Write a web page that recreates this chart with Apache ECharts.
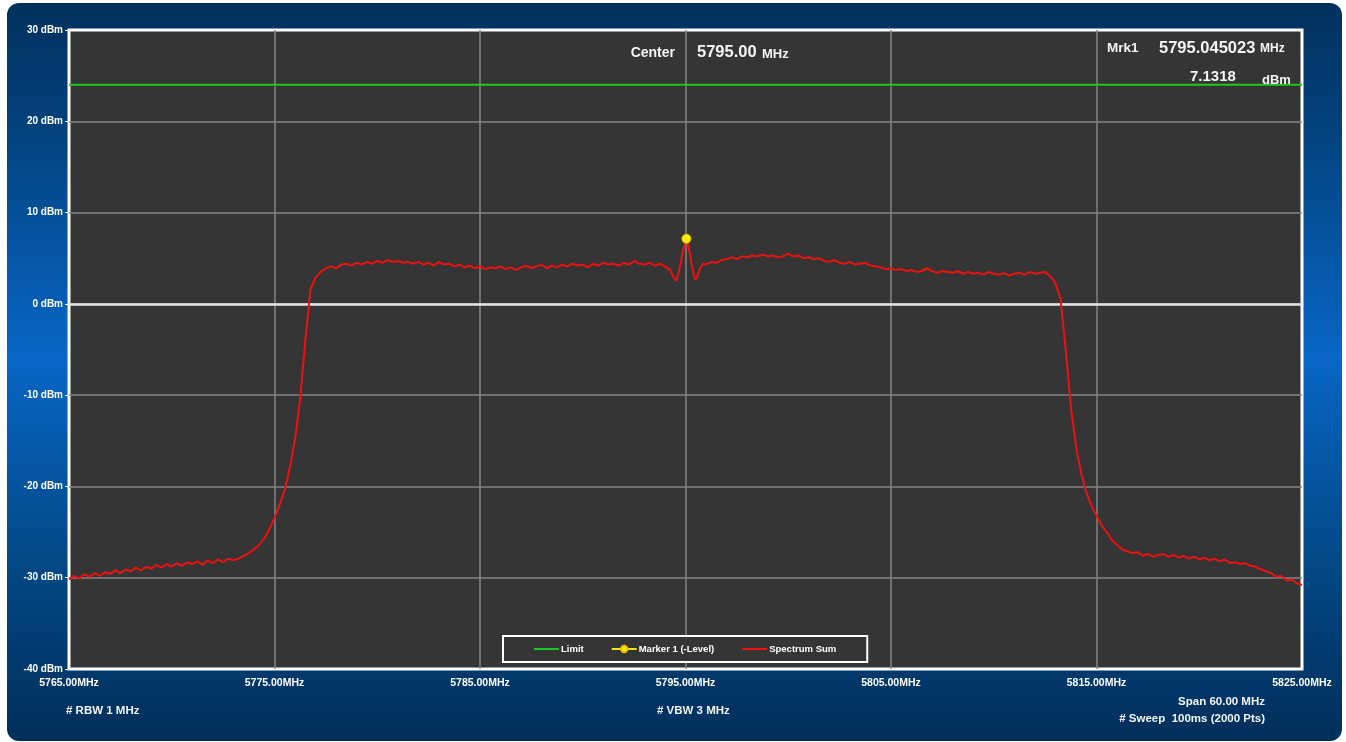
<!DOCTYPE html>
<html>
<head>
<meta charset="utf-8">
<script src="https://cdn.jsdelivr.net/npm/echarts@6/dist/echarts.min.js"></script>
<style>
html,body{margin:0;padding:0;background:#ffffff;}
#chart{width:1346px;height:742px;}
</style>
</head>
<body>
<div id="chart"></div>
<script>
// ---- data ----
const freqMHz = [
5765.00,5765.25,5765.50,5765.75,5766.00,5766.25,5766.50,5766.75,5767.00,5767.25,5767.50,5767.75,
5768.00,5768.25,5768.50,5768.75,5769.00,5769.25,5769.50,5769.75,5770.00,5770.25,5770.50,5770.75,
5771.00,5771.25,5771.50,5771.75,5772.00,5772.25,5772.50,5772.75,5773.00,5773.25,5773.50,5773.75,
5774.00,5774.25,5774.50,5774.75,5775.00,5775.25,5775.50,5775.75,5776.00,5776.25,5776.50,5776.75,
5777.00,5777.25,5777.50,5777.75,5778.00,5778.25,5778.50,5778.75,5779.00,5779.25,5779.50,5779.75,
5780.00,5780.25,5780.50,5780.75,5781.00,5781.25,5781.50,5781.75,5782.00,5782.25,5782.50,5782.75,
5783.00,5783.25,5783.50,5783.75,5784.00,5784.25,5784.50,5784.75,5785.00,5785.25,5785.50,5785.75,
5786.00,5786.25,5786.50,5786.75,5787.00,5787.25,5787.50,5787.75,5788.00,5788.25,5788.50,5788.75,
5789.00,5789.25,5789.50,5789.75,5790.00,5790.25,5790.50,5790.75,5791.00,5791.25,5791.50,5791.75,
5792.00,5792.25,5792.50,5792.75,5793.00,5793.25,5793.50,5793.75,5794.00,5794.25,5794.40,5794.55,
5794.70,5794.85,5795.00,5795.045,5795.15,5795.30,5795.45,5795.55,5795.70,5795.85,5796.00,5796.25,
5796.50,5796.75,5797.00,5797.25,5797.50,5797.75,5798.00,5798.25,5798.50,5798.75,5799.00,5799.25,
5799.50,5799.75,5800.00,5800.25,5800.50,5800.75,5801.00,5801.25,5801.50,5801.75,5802.00,5802.25,
5802.50,5802.75,5803.00,5803.25,5803.50,5803.75,5804.00,5804.25,5804.50,5804.75,5805.00,5805.25,
5805.50,5805.75,5806.00,5806.25,5806.50,5806.75,5807.00,5807.25,5807.50,5807.75,5808.00,5808.25,
5808.50,5808.75,5809.00,5809.25,5809.50,5809.75,5810.00,5810.25,5810.50,5810.75,5811.00,5811.25,
5811.50,5811.75,5812.00,5812.25,5812.50,5812.75,5813.00,5813.25,5813.50,5813.75,5814.00,5814.25,
5814.50,5814.75,5815.00,5815.25,5815.50,5815.75,5816.00,5816.25,5816.50,5816.75,5817.00,5817.25,
5817.50,5817.75,5818.00,5818.25,5818.50,5818.75,5819.00,5819.25,5819.50,5819.75,5820.00,5820.25,
5820.50,5820.75,5821.00,5821.25,5821.50,5821.75,5822.00,5822.25,5822.50,5822.75,5823.00,5823.25,
5823.50,5823.75,5824.00,5824.25,5824.50,5824.75,5825.00
];
const levelDbm = [
-30.2,-29.8,-30.1,-29.6,-29.9,-29.5,-29.8,-29.4,-29.6,-29.2,-29.5,-29.1,
-29.3,-28.9,-29.2,-28.8,-29.0,-28.6,-28.9,-28.5,-28.8,-28.4,-28.7,-28.3,
-28.5,-28.2,-28.6,-28.1,-28.4,-28.0,-28.3,-27.9,-28.1,-27.9,-27.6,-27.3,
-26.9,-26.4,-25.7,-24.7,-23.5,-22.0,-20.4,-17.9,-14.8,-10.4,-4.0,1.6,
2.9,3.5,3.9,4.1,3.9,4.3,4.4,4.2,4.5,4.3,4.6,4.4,
4.7,4.5,4.8,4.6,4.7,4.5,4.6,4.4,4.6,4.3,4.5,4.2,
4.6,4.3,4.4,4.1,4.3,4.0,4.2,3.9,4.1,3.8,4.0,3.9,
4.1,3.8,4.0,3.7,4.0,4.2,3.9,4.1,4.3,3.9,4.2,4.0,
4.3,4.1,4.4,4.2,4.3,4.0,4.4,4.2,4.5,4.3,4.4,4.2,
4.5,4.3,4.7,4.4,4.3,4.5,4.2,4.4,4.1,3.7,3.0,2.5,
3.7,5.5,6.9,7.1318,6.2,4.3,2.7,2.8,3.9,4.4,4.3,4.6,
4.5,4.8,4.9,5.1,4.9,5.2,5.1,5.3,5.2,5.4,5.2,5.3,
5.1,5.2,5.5,5.2,5.3,5.0,5.1,4.9,5.0,4.7,4.6,4.8,
4.5,4.4,4.6,4.3,4.4,4.5,4.2,4.1,4.0,3.8,3.9,3.7,
3.8,3.6,3.7,3.5,3.6,3.9,3.6,3.4,3.6,3.5,3.4,3.6,
3.3,3.5,3.3,3.4,3.2,3.5,3.3,3.2,3.4,3.1,3.3,3.4,
3.2,3.5,3.3,3.4,3.5,3.0,2.3,0.6,-5.0,-11.2,-15.6,-18.5,
-20.6,-22.1,-23.2,-24.3,-25.0,-25.9,-26.4,-26.9,-27.1,-27.3,-27.2,-27.6,
-27.4,-27.7,-27.5,-27.4,-27.7,-27.5,-27.8,-27.6,-27.9,-27.7,-28.0,-27.8,
-28.1,-27.9,-28.2,-28.0,-28.4,-28.3,-28.5,-28.4,-28.7,-28.8,-29.1,-29.3,
-29.5,-29.9,-29.8,-30.3,-30.2,-30.6,-30.8
];
const limitDbm = 24;
const limitSpan = [5765, 5825];
const markerFreqMHz = 5795.045023;
const markerLevelDbm = 7.1318;
const seriesNames = ['Limit', 'Marker 1 (-Level)', 'Spectrum Sum'];
const xAxisRange = [5765, 5825];
const yAxisRange = [-40, 30];
const centerText = '5795.00';
const markerFreqText = '5795.045023';
const markerLevelText = '7.1318';
const footLeft = '# RBW 1 MHz';
const footMid = '# VBW 3 MHz';
const footRight1 = 'Span 60.00 MHz';
const footRight2 = '# Sweep  100ms (2000 Pts)';

const spectrum = freqMHz.map((f, i) => [f, levelDbm[i]]);
const limitData = limitSpan.map(f => [f, limitDbm]);

const chart = echarts.init(document.getElementById('chart'), null, {renderer: 'canvas'});
const FONT = 'Liberation Sans';
const TXT = '#f4f4f4';

chart.setOption({
  animation: false,
  backgroundColor: '#ffffff',
  grid: {
    left: 69, right: 44, top: 30, bottom: 73,
    show: true, backgroundColor: '#353535',
    borderColor: '#ffffff', borderWidth: 3
  },
  xAxis: {
    type: 'value', min: xAxisRange[0], max: xAxisRange[1], interval: 10,
    axisLine: {show: false},
    axisTick: {show: false},
    splitLine: {show: true, showMinLine: false, showMaxLine: false, lineStyle: {color: '#858585', width: 1.5}},
    axisLabel: {
      color: '#ffffff', fontFamily: FONT, fontWeight: 'bold', fontSize: 10.5, margin: 9,
      showMinLabel: true, showMaxLabel: true,
      formatter: v => v.toFixed(2) + 'MHz'
    }
  },
  yAxis: {
    type: 'value', min: yAxisRange[0], max: yAxisRange[1], interval: 10,
    axisLine: {show: false},
    axisTick: {show: true, length: 4, lineStyle: {color: '#ffffff', width: 1}},
    splitLine: {show: true, showMinLine: false, showMaxLine: false, lineStyle: {color: '#858585', width: 1.5}},
    axisLabel: {
      color: '#ffffff', fontFamily: FONT, fontWeight: 'bold', fontSize: 10, margin: 6,
      formatter: v => v + ' dBm'
    }
  },
  legend: {
    data: [
      {name: seriesNames[0], itemStyle: {opacity: 0}},
      {name: seriesNames[1]},
      {name: seriesNames[2], itemStyle: {opacity: 0}}
    ],
    left: 503, top: 636,
    orient: 'horizontal',
    backgroundColor: '#353535', borderColor: '#ffffff', borderWidth: 2, borderRadius: 0,
    padding: [8, 31, 8, 30],
    itemWidth: 25, itemHeight: 8, itemGap: 27,
    textStyle: {color: '#ffffff', fontFamily: FONT, fontWeight: 'bold', fontSize: 9.5, padding: [0, 0, 0, -3]}
  },
  series: [
    {
      name: seriesNames[0], type: 'line', data: limitData,
      symbol: 'none', lineStyle: {color: '#1ec71e', width: 2}, itemStyle: {color: '#1ec71e'},
      z: 3, silent: true
    },
    {
      name: seriesNames[1], type: 'line', data: [[markerFreqMHz, markerLevelDbm]],
      symbol: 'circle', symbolSize: 9, showSymbol: true,
      lineStyle: {color: '#f2e600', width: 2}, itemStyle: {color: '#f7ea10', borderColor: '#e8c000', borderWidth: 1},
      z: 6, silent: true
    },
    {
      name: seriesNames[2], type: 'line', data: spectrum,
      symbol: 'none', sampling: false,
      lineStyle: {color: '#ee1111', width: 2}, itemStyle: {color: '#ee1111'},
      z: 5, silent: true,
      markLine: {
        silent: true, symbol: 'none', label: {show: false},
        lineStyle: {color: '#e6e6e6', width: 2.5, type: 'solid'},
        data: [{yAxis: 0}], z: 1
      }
    }
  ],
  graphic: [
    {
      type: 'rect', z: -10, silent: true,
      shape: {x: 7, y: 3, width: 1335, height: 738, r: 12},
      style: {
        fill: new echarts.graphic.LinearGradient(0, 0, 0, 1, [
          {offset: 0, color: '#02305c'},
          {offset: 0.18, color: '#03437f'},
          {offset: 0.48, color: '#0866c6'},
          {offset: 0.75, color: '#034987'},
          {offset: 1, color: '#012e5a'}
        ])
      }
    },
    {type: 'text', z: 100, x: 675, y: 53, style: {text: 'Center', fill: TXT, font: 'bold 14px ' + FONT, textAlign: 'right', textVerticalAlign: 'middle'}},
    {type: 'text', z: 100, x: 697, y: 52, style: {text: centerText, fill: TXT, font: 'bold 16.5px ' + FONT, textAlign: 'left', textVerticalAlign: 'middle'}},
    {type: 'text', z: 100, x: 762, y: 54, style: {text: 'MHz', fill: TXT, font: 'bold 13px ' + FONT, textAlign: 'left', textVerticalAlign: 'middle'}},
    {type: 'text', z: 100, x: 1107, y: 48, style: {text: 'Mrk1', fill: TXT, font: 'bold 13.5px ' + FONT, textAlign: 'left', textVerticalAlign: 'middle'}},
    {type: 'text', z: 100, x: 1159, y: 48, style: {text: markerFreqText, fill: TXT, font: 'bold 16.5px ' + FONT, textAlign: 'left', textVerticalAlign: 'middle'}},
    {type: 'text', z: 100, x: 1260, y: 49, style: {text: 'MHz', fill: TXT, font: 'bold 12px ' + FONT, textAlign: 'left', textVerticalAlign: 'middle'}},
    {type: 'text', z: 100, x: 1190, y: 77, style: {text: markerLevelText, fill: TXT, font: 'bold 15px ' + FONT, textAlign: 'left', textVerticalAlign: 'middle'}},
    {type: 'text', z: 100, x: 1262, y: 80, style: {text: 'dBm', fill: TXT, font: 'bold 13px ' + FONT, textAlign: 'left', textVerticalAlign: 'middle'}},
    {type: 'text', z: 100, x: 66, y: 711, style: {text: footLeft, fill: TXT, font: 'bold 11.5px ' + FONT, textAlign: 'left', textVerticalAlign: 'middle'}},
    {type: 'text', z: 100, x: 657, y: 711, style: {text: footMid, fill: TXT, font: 'bold 11.5px ' + FONT, textAlign: 'left', textVerticalAlign: 'middle'}},
    {type: 'text', z: 100, x: 1265, y: 702, style: {text: footRight1, fill: TXT, font: 'bold 11.5px ' + FONT, textAlign: 'right', textVerticalAlign: 'middle'}},
    {type: 'text', z: 100, x: 1265, y: 719, style: {text: footRight2, fill: TXT, font: 'bold 11.5px ' + FONT, textAlign: 'right', textVerticalAlign: 'middle'}}
  ]
});
</script>
</body>
</html>
